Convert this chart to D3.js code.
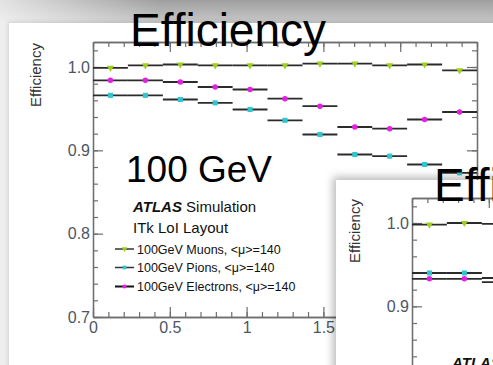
<!DOCTYPE html>
<html>
<head>
<meta charset="utf-8">
<script src="https://cdn.jsdelivr.net/npm/d3@7"></script>
<style>
  body { margin: 0; background: #fff; }
  svg { display: block; font-family: "Liberation Sans", Arial, Helvetica, sans-serif; }
</style>
</head>
<body>
<svg id="slide" width="493" height="365"></svg>
<script>
// |eta| bin edges
const etaEdges = [0, 0.227, 0.455, 0.682, 0.909, 1.136, 1.364, 1.591, 1.818, 2.045, 2.273, 2.5];
const xTickValues = [0, 0.5, 1, 1.5, 2, 2.5];
const xTickLabels = ["0", "0.5", "1", "1.5", "2", "2.5"];
const yTickValues = [0.7, 0.8, 0.9, 1.0];
const yTickLabels = ["0.7", "0.8", "0.9", "1.0"];

// 100 GeV single particles, <mu>=140
const muons100 = [0.999, 1.002, 1.003, 1.002, 1.002, 1.002, 1.004, 1.004, 1.002, 1.003, 0.996];
const pions100 = [0.966, 0.966, 0.961, 0.957, 0.949, 0.936, 0.919, 0.895, 0.893, 0.883, 0.873];
const electrons100 = [0.984, 0.984, 0.982, 0.976, 0.973, 0.962, 0.953, 0.928, 0.926, 0.937, 0.946];

// second panel, first bins
const muonsB = [0.998, 1.000, 0.999];
const pionsB = [0.940, 0.940, 0.934];
const electronsB = [0.933, 0.933, 0.929];

const legendLabels = ["100GeV Muons, <\u03bc>=140", "100GeV Pions, <\u03bc>=140", "100GeV Electrons, <\u03bc>=140"];

const colors = { muon: "#9fcf1f", pion: "#2fc6cf", electron: "#e41ee4" };

const svg = d3.select("#slide");
const defs = svg.append("defs");

// backdrop gradients
const band = defs.append("linearGradient").attr("id", "band").attr("x1", 0).attr("y1", 0).attr("x2", 0).attr("y2", 1);
band.append("stop").attr("offset", 0).attr("stop-color", "#9f9f9f");
band.append("stop").attr("offset", 1).attr("stop-color", "#c9c9c9");
const bandFade = defs.append("linearGradient").attr("id", "bandFade").attr("x1", 0).attr("y1", 0).attr("x2", 1).attr("y2", 0);
bandFade.append("stop").attr("offset", 0).attr("stop-color", "#fff").attr("stop-opacity", 0.7);
bandFade.append("stop").attr("offset", 1).attr("stop-color", "#fff").attr("stop-opacity", 0);

const sh1 = defs.append("filter").attr("id", "shadow1").attr("x", "-10%").attr("y", "-10%").attr("width", "120%").attr("height", "120%");
sh1.append("feDropShadow").attr("dx", -1).attr("dy", -1).attr("stdDeviation", 2).attr("flood-color", "#000").attr("flood-opacity", 0.12);
const sh2 = defs.append("filter").attr("id", "shadow2").attr("x", "-20%").attr("y", "-20%").attr("width", "140%").attr("height", "140%");
sh2.append("feDropShadow").attr("dx", -3).attr("dy", -3).attr("stdDeviation", 4.5).attr("flood-color", "#000").attr("flood-opacity", 0.28);

svg.append("rect").attr("width", 493).attr("height", 365).attr("fill", "#eeeeee");
svg.append("rect").attr("width", 493).attr("height", 23).attr("fill", "url(#band)");
svg.append("rect").attr("width", 160).attr("height", 23).attr("fill", "url(#bandFade)");
svg.append("rect").attr("x", 9).attr("y", 23).attr("width", 500).attr("height", 360)
  .attr("fill", "#fff").attr("filter", "url(#shadow1)");

function drawPanel(g, series, opts) {
  const x = d3.scaleLinear().domain([0, 2.5]).range([93, 477]);
  const y = d3.scaleLinear().domain([0.7, 1.03]).range([317, 42]);
  const axisColor = "#6e6e6e";
  const labelX = opts.xLabels ? (d, i) => xTickLabels[i] : "";
  const yShown = yTickValues.filter(v => y(v) + opts.dy < 360);

  // frame with inward ticks
  const minorX = d3.range(0, 26).map(d => d / 10);
  const minorY = d3.range(0, 17).map(d => 0.7 + d * 0.02);

  const styleAxis = sel => {
    sel.selectAll("path.domain").attr("stroke", axisColor).attr("stroke-width", 1.3);
    sel.selectAll(".tick line").attr("stroke", axisColor).attr("stroke-width", 1.2);
    sel.selectAll(".tick text").attr("fill", "#4c5665").attr("font-size", 16);
  };

  const bottom = g.append("g").attr("transform", `translate(0,${y(0.7)})`);
  bottom.append("g").call(d3.axisBottom(x).tickValues(minorX).tickFormat("").tickSize(-5).tickSizeOuter(0)).call(styleAxis);
  bottom.append("g").call(d3.axisBottom(x).tickValues(xTickValues).tickFormat(labelX).tickSize(-10).tickSizeOuter(0).tickPadding(5)).call(styleAxis);

  const top = g.append("g").attr("transform", `translate(0,${y(1.03)})`);
  top.append("g").call(d3.axisTop(x).tickValues(minorX).tickFormat("").tickSize(-5).tickSizeOuter(0)).call(styleAxis);
  top.append("g").call(d3.axisTop(x).tickValues(xTickValues).tickFormat("").tickSize(-10).tickSizeOuter(0)).call(styleAxis);

  const left = g.append("g").attr("transform", `translate(${x(0)},0)`);
  left.append("g").call(d3.axisLeft(y).tickValues(minorY).tickFormat("").tickSize(-5).tickSizeOuter(0)).call(styleAxis);
  left.append("g").call(d3.axisLeft(y).tickValues(yTickValues).tickFormat("").tickSize(-10).tickSizeOuter(0)).call(styleAxis);
  left.append("g").call(d3.axisLeft(y).tickValues(yShown)
      .tickFormat(d => yTickLabels[yTickValues.indexOf(d)]).tickSize(0).tickSizeOuter(0).tickPadding(3))
    .call(styleAxis).call(s => s.select("path.domain").remove());

  const right = g.append("g").attr("transform", `translate(${x(2.5)},0)`);
  right.append("g").call(d3.axisRight(y).tickValues(minorY).tickFormat("").tickSize(-5).tickSizeOuter(0)).call(styleAxis);
  right.append("g").call(d3.axisRight(y).tickValues(yTickValues).tickFormat("").tickSize(-10).tickSizeOuter(0)).call(styleAxis);

  // y title
  g.append("text").attr("transform", "translate(41,75) rotate(-90)")
    .attr("text-anchor", "middle").attr("font-size", 15).attr("fill", "#333").text("Efficiency");

  const symbols = {
    muon: d3.symbol().type(d3.symbolTriangle).size(22),
    pion: d3.symbol().type(d3.symbolSquare).size(26),
    electron: d3.symbol().type(d3.symbolCircle).size(24)
  };
  const rot = { muon: 180, pion: 0, electron: 0 };

  // horizontal bin-width bars, then markers
  series.forEach(s => {
    g.append("g").selectAll("line").data(s.values).join("line")
      .attr("x1", (d, i) => x(etaEdges[i])).attr("x2", (d, i) => x(etaEdges[i + 1]))
      .attr("y1", d => y(d)).attr("y2", d => y(d))
      .attr("stroke", "#2b2b2b").attr("stroke-width", 1.9);
  });
  series.forEach(s => {
    g.append("g").selectAll("path").data(s.values).join("path")
      .attr("d", symbols[s.kind])
      .attr("transform", (d, i) => `translate(${x((etaEdges[i] + etaEdges[i + 1]) / 2)},${y(d)}) rotate(${rot[s.kind]})`)
      .attr("fill", colors[s.kind]);
  });

  // legend block
  const lg = g.append("g");
  lg.append("text").attr("x", 133).attr("y", 212).attr("font-size", 15).attr("fill", "#111")
    .call(t => {
      t.append("tspan").attr("font-weight", "bold").attr("font-style", "italic").text("ATLAS");
      t.append("tspan").text(" Simulation");
    });
  if (opts.legend) {
    lg.append("text").attr("x", 133).attr("y", 233).attr("font-size", 15).attr("fill", "#111").text("ITk LoI Layout");
    const rows = [249, 267.5, 286.5];
    series.forEach((s, i) => {
      lg.append("line").attr("x1", 115).attr("x2", 134).attr("y1", rows[i]).attr("y2", rows[i])
        .attr("stroke", i === 2 ? "#111" : "#333").attr("stroke-width", i === 2 ? 2 : 1.5);
      lg.append("path").attr("d", d3.symbol().type(s.kind === "muon" ? d3.symbolTriangle : s.kind === "pion" ? d3.symbolSquare : d3.symbolCircle).size(14))
        .attr("transform", `translate(124.5,${rows[i]}) rotate(${rot[s.kind]})`).attr("fill", colors[s.kind]);
      lg.append("text").attr("x", 137).attr("y", rows[i] + 4.5).attr("font-size", 12.5).attr("fill", "#111").text(opts.legend[i]);
    });
  }
}

// first panel: 100 GeV
const p1 = svg.append("g");
drawPanel(p1, [
  { kind: "muon", values: muons100 },
  { kind: "pion", values: pions100 },
  { kind: "electron", values: electrons100 }
], { legend: legendLabels, xLabels: true, dy: 0 });

svg.append("text").attr("x", 130).attr("y", 46).attr("font-size", 46).attr("fill", "#000").text("Efficiency");
svg.append("text").attr("x", 126).attr("y", 181.5).attr("font-size", 37).attr("fill", "#000").text("100 GeV");

// second panel, overlapping lower right
svg.append("rect").attr("x", 336).attr("y", 180).attr("width", 200).attr("height", 220)
  .attr("fill", "#fff").attr("filter", "url(#shadow2)");
const p2 = svg.append("g").attr("transform", "translate(319,156)");
drawPanel(p2, [
  { kind: "muon", values: muonsB },
  { kind: "pion", values: pionsB },
  { kind: "electron", values: electronsB }
], { legend: null, xLabels: false, dy: 156 });

svg.append("text").attr("x", 434).attr("y", 201).attr("font-size", 46).attr("fill", "#000").text("Efficiency");
</script>
</body>
</html>
